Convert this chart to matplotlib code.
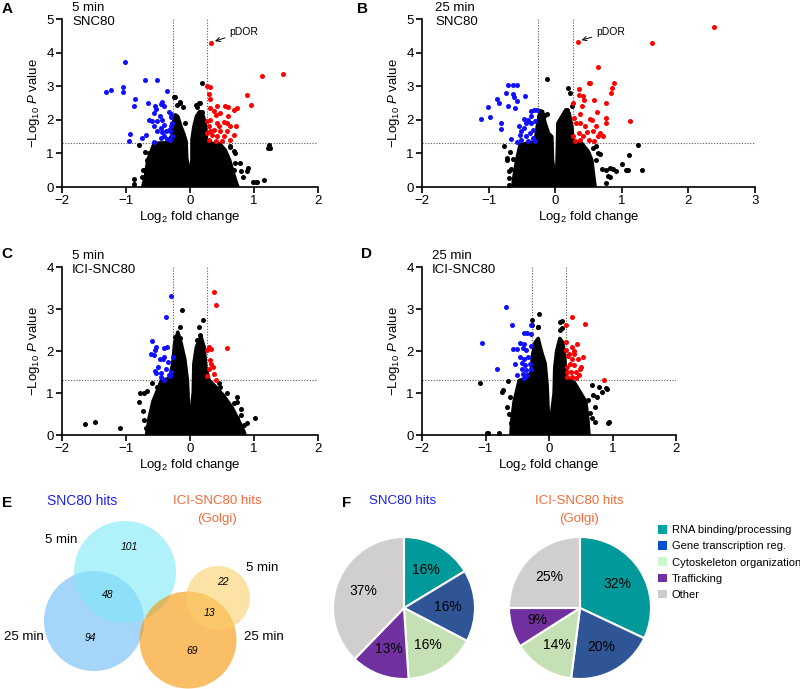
import matplotlib
matplotlib.use('Agg')
import matplotlib.pyplot as plt
from matplotlib.patches import Circle, Patch, Polygon

plt.rcParams['font.family'] = ['Liberation Sans', 'DejaVu Sans']
plt.rcParams['mathtext.fontset'] = 'custom'
plt.rcParams['mathtext.rm'] = 'Liberation Sans'
plt.rcParams['mathtext.it'] = 'Liberation Sans:italic'

W, H = 800, 689

# cut-offs used in the volcano plots
FC_CUT = 0.263   # log2(1.2)
P_CUT = 1.301    # -log10(0.05)

# ---- panel A: 5 min SNC80 ----
a_blue = [(-1.31, 2.84), (-1.23, 2.90), (-1.02, 3.73), (-1.05, 2.98), (-1.05, 2.82), (-0.86, 2.63),
          (-0.875, 2.42), (-0.70, 3.18), (-0.66, 2.50), (-0.52, 3.18), (-0.57, 2.20), (-0.64, 1.98),
          (-0.93, 1.57), (-0.95, 1.37), (-0.755, 1.47), (-0.69, 1.55), (-0.55, 2.42), (-0.53, 2.33),
          (-0.46, 2.48), (-0.44, 2.52), (-0.41, 2.40), (-0.36, 2.87), (-0.33, 2.24), (-0.30, 2.17),
          (-0.29, 2.08), (-0.47, 2.10), (-0.44, 2.00), (-0.41, 1.86), (-0.46, 1.76), (-0.375, 1.66),
          (-0.33, 1.71), (-0.30, 1.81), (-0.28, 1.90), (-0.56, 1.33), (-0.46, 1.46), (-0.40, 1.53),
          (-0.36, 1.43), (-0.31, 1.41), (-0.52, 1.66), (-0.44, 1.63), (-0.59, 1.95), (-0.57, 1.81),
          (-0.52, 1.95), (-0.31, 1.66), (-0.28, 1.51)]
a_red = [(0.33, 4.28), (0.27, 3.02), (0.32, 2.98), (0.29, 2.78), (0.31, 2.62), (1.125, 3.29),
         (1.46, 3.36), (0.89, 2.75), (0.95, 2.45), (0.42, 2.42), (0.55, 2.40), (0.59, 2.38),
         (0.68, 2.30), (0.73, 2.35), (0.32, 2.35), (0.37, 2.25), (0.47, 2.20), (0.32, 2.00),
         (0.41, 2.15), (0.60, 2.10), (0.53, 1.92), (0.45, 1.82), (0.63, 1.81), (0.72, 1.81),
         (0.29, 1.81), (0.37, 1.71), (0.47, 1.66), (0.58, 1.66), (0.68, 1.56), (0.27, 1.61),
         (0.34, 1.56), (0.42, 1.51), (0.53, 1.51), (0.63, 1.41), (0.29, 1.41), (0.40, 1.36),
         (0.50, 1.36), (0.27, 1.95), (0.42, 1.90), (0.58, 1.90), (0.32, 1.66)]
a_black = [(0.19, 3.10), (-0.255, 2.67), (-0.15, 2.52), (0.15, 2.50), (-0.11, 2.38), (0.11, 2.38),
           (1.23, 1.26), (1.245, 1.16), (1.15, 0.22), (1.04, 0.15), (-0.88, 0.25), (-0.88, 0.08),
           (-0.72, 0.50), (-0.75, 0.30), (-0.80, 1.24), (-0.645, 1.01), (-0.67, 0.79), (-0.57, 0.51),
           (0.89, 0.47), (0.91, 0.58), (0.79, 0.47), (0.71, 0.71), (0.68, 1.06), (0.63, 1.21), (0.99, 0.15),
           (-0.23, 2.69), (-0.16, 2.51), (-0.21, 2.44), (0.14, 2.49), (0.09, 2.44), (0.18, 2.24),
           (-0.08, 1.91), (0.15, 2.04), (-0.18, 1.70), (-0.70, 1.05), (-0.625, 0.90), (-0.65, 0.70),
           (-0.73, 0.51), (0.625, 1.20), (0.70, 1.00), (0.78, 0.70), (0.83, 0.31), (1.03, 0.16),
           (0.68, 0.51), (0.55, 0.85), (1.22, 1.15)]
a_cloud_left = [(-0.74, 0.0), (-0.70, 0.30), (-0.66, 0.80), (-0.60, 1.10), (-0.56, 1.30), (-0.35, 1.32),
                (-0.28, 1.55), (-0.26, 1.90), (-0.23, 2.15), (-0.19, 2.10), (-0.14, 1.80), (-0.09, 1.55),
                (-0.06, 1.35), (-0.05, 0.85), (-0.02, 0.55), (0.0, 0.45), (0.0, 0.0)]
a_cloud_right = [(0.0, 0.0), (0.0, 0.45), (0.03, 0.80), (0.03, 1.40), (0.06, 1.80), (0.10, 2.10),
                 (0.15, 2.25), (0.20, 2.15), (0.24, 1.90), (0.26, 1.40), (0.35, 1.30), (0.47, 1.28),
                 (0.55, 1.10), (0.62, 0.80), (0.68, 0.40), (0.73, 0.10), (0.75, 0.0)]

# ---- panel B: 25 min SNC80 ----
b_blue = [(-1.12, 2.01), (-0.98, 2.07), (-1.01, 2.38), (-0.87, 2.62), (-0.84, 2.49), (-0.82, 1.90),
          (-0.82, 1.73), (-0.74, 2.79), (-0.71, 3.05), (-0.63, 3.05), (-0.57, 3.03), (-0.63, 2.78),
          (-0.62, 2.67), (-0.58, 2.57), (-0.60, 2.35), (-0.71, 2.40), (-0.46, 2.72), (-0.66, 1.43),
          (-0.58, 1.33), (-0.54, 1.81), (-0.51, 1.66), (-0.47, 2.01), (-0.44, 1.89), (-0.41, 1.98),
          (-0.36, 2.10), (-0.32, 2.28), (-0.28, 2.30), (-0.37, 2.25), (-0.51, 1.41), (-0.44, 1.51),
          (-0.38, 1.61), (-0.33, 1.71), (-0.41, 1.36), (-0.34, 1.46), (-0.31, 1.36), (-0.53, 1.56),
          (-0.47, 1.76), (-0.36, 1.91), (-0.31, 1.96)]
b_red = [(0.335, 4.31), (2.39, 4.77), (1.45, 4.30), (0.65, 3.58), (0.50, 3.10), (0.52, 3.09),
         (0.36, 2.93), (0.35, 2.74), (0.89, 3.09), (0.86, 2.94), (0.84, 2.80), (0.42, 2.70),
         (0.43, 2.60), (0.58, 2.58), (0.77, 2.50), (0.40, 2.40), (0.27, 2.50), (0.63, 2.24),
         (1.12, 1.95), (0.77, 2.06), (0.77, 1.91), (0.28, 2.06), (0.37, 2.18), (0.52, 2.03),
         (0.55, 2.00), (0.31, 1.91), (0.37, 1.91), (0.45, 1.81), (0.62, 1.81), (0.47, 1.63),
         (0.57, 1.66), (0.67, 1.61), (0.72, 1.51), (0.65, 1.51), (0.35, 1.61), (0.27, 1.51),
         (0.42, 1.51), (0.50, 1.41), (0.37, 1.41), (0.30, 1.36), (0.59, 1.36)]
b_black = [(-0.13, 3.21), (0.195, 2.94), (0.22, 2.79), (1.24, 1.25), (1.11, 0.96), (1.00, 0.67),
           (1.09, 0.50), (1.31, 0.52), (-0.77, 1.22), (-0.72, 0.87), (-0.69, 0.47), (-0.69, 0.26),
           (-0.70, 0.06), (0.91, 0.47), (0.83, 0.57), (0.80, 0.33), (0.77, 0.11), (0.67, 0.97),
           (0.62, 1.22), (-0.23, 2.25), (-0.155, 2.15), (0.17, 2.30), (0.245, 2.42), (-0.13, 2.18),
           (-0.24, 2.08), (0.15, 2.20), (0.20, 1.98), (-0.68, 1.04), (-0.73, 0.80), (-0.63, 0.82),
           (-0.67, 0.55), (-0.55, 0.41), (0.57, 1.15), (0.65, 1.00), (0.62, 0.80), (0.70, 0.55),
           (0.77, 0.50), (0.87, 0.55), (0.82, 0.30), (1.07, 0.50)]
b_cloud_left = [(-0.64, 0.0), (-0.62, 0.30), (-0.58, 0.80), (-0.53, 1.25), (-0.40, 1.32), (-0.30, 1.35),
                (-0.27, 1.80), (-0.24, 2.15), (-0.19, 2.25), (-0.15, 1.90), (-0.10, 1.60), (-0.05, 1.50),
                (-0.04, 0.80), (-0.01, 0.35), (0.0, 0.0)]
b_cloud_right = [(0.0, 0.0), (0.02, 0.35), (0.03, 1.00), (0.04, 1.90), (0.10, 2.10), (0.16, 2.30),
                 (0.21, 2.20), (0.25, 1.80), (0.27, 1.35), (0.40, 1.30), (0.50, 1.05), (0.55, 0.80),
                 (0.58, 0.30), (0.60, 0.0)]

# ---- panel C: 5 min ICI-SNC80 ----
c_blue = [(-0.30, 3.30), (-0.375, 2.80), (-0.59, 2.24), (-0.53, 2.10), (-0.54, 2.02), (-0.41, 2.08),
          (-0.36, 2.10), (-0.27, 1.86), (-0.61, 1.92), (-0.56, 1.90), (-0.47, 1.82), (-0.42, 1.80),
          (-0.40, 1.86), (-0.34, 1.74), (-0.50, 1.62), (-0.37, 1.58), (-0.55, 1.53), (-0.53, 1.47),
          (-0.45, 1.48), (-0.33, 1.44), (-0.29, 1.50), (-0.31, 1.40), (-0.40, 1.32), (-0.46, 1.39)]
c_red = [(0.37, 3.41), (0.41, 3.09), (0.58, 2.07), (0.29, 2.10), (0.33, 2.04), (0.27, 2.02),
         (0.31, 1.78), (0.33, 1.69), (0.36, 1.62), (0.29, 1.58), (0.37, 1.45), (0.27, 1.40), (0.40, 1.32)]
c_black = [(-0.125, 2.97), (0.20, 2.73), (-0.16, 2.56), (0.135, 2.57), (0.16, 2.38), (-1.635, 0.26),
           (-1.49, 0.30), (-1.09, 0.16), (-0.80, 0.79), (-0.72, 0.99), (-0.67, 1.05), (-0.73, 0.58),
           (1.02, 0.41), (0.79, 0.48), (0.46, 1.23), (-0.59, 1.24), (-0.52, 1.15), (0.73, 0.79),
           (0.89, 0.28), (0.84, 0.24), (-0.59, 0.08), (-0.23, 2.34), (-0.78, 0.99), (-0.62, 0.44),
           (-0.54, 0.32), (-0.72, 0.36), (-0.68, 0.16), (0.74, 0.91), (0.68, 0.77), (0.80, 0.63),
           (0.73, 0.40), (0.47, 1.15), (0.58, 0.99), (-0.15, 2.32), (0.11, 2.26)]
c_cloud_left = [(-0.68, 0.0), (-0.64, 0.40), (-0.58, 0.80), (-0.50, 1.10), (-0.45, 1.30), (-0.32, 1.35),
                (-0.27, 1.70), (-0.24, 2.20), (-0.19, 2.45), (-0.14, 2.20), (-0.08, 1.80), (-0.04, 1.30),
                (-0.02, 0.60), (0.0, 0.30), (0.0, 0.0)]
c_cloud_right = [(0.0, 0.0), (0.0, 0.30), (0.02, 0.60), (0.05, 1.00), (0.06, 1.70), (0.10, 2.10),
                 (0.17, 2.35), (0.22, 2.10), (0.25, 1.60), (0.30, 1.30), (0.40, 1.15), (0.52, 0.95),
                 (0.66, 0.65), (0.76, 0.35), (0.84, 0.10), (0.86, 0.0)]

# ---- panel D: 25 min ICI-SNC80 ----
d_blue = [(-1.05, 2.18), (-0.825, 1.58), (-0.68, 3.05), (-0.59, 2.63), (-0.57, 2.04), (-0.50, 2.04),
          (-0.53, 1.69), (-0.51, 1.43), (-0.40, 2.42), (-0.35, 2.43), (-0.29, 2.62), (-0.28, 2.40),
          (-0.46, 2.18), (-0.39, 2.16), (-0.41, 2.06), (-0.37, 2.02), (-0.28, 2.11), (-0.46, 1.86),
          (-0.39, 1.80), (-0.33, 1.85), (-0.42, 1.72), (-0.38, 1.66), (-0.30, 1.70), (-0.43, 1.58),
          (-0.37, 1.54), (-0.29, 1.56), (-0.41, 1.45), (-0.34, 1.42), (-0.40, 1.35)]
d_red = [(0.36, 2.81), (0.27, 2.63), (0.56, 2.64), (0.27, 2.22), (0.44, 2.16), (0.36, 2.10),
         (0.27, 2.02), (0.40, 2.00), (0.54, 1.85), (0.51, 1.62), (0.49, 1.58), (0.87, 1.31),
         (0.30, 1.88), (0.37, 1.82), (0.45, 1.80), (0.33, 1.70), (0.39, 1.66), (0.29, 1.62),
         (0.28, 1.50), (0.34, 1.50), (0.42, 1.50), (0.47, 1.43), (0.29, 1.39), (0.37, 1.37),
         (0.43, 1.35), (0.32, 1.94), (0.39, 1.94)]
d_black = [(-1.09, 1.25), (-0.98, 0.04), (-0.79, 0.04), (-0.63, 0.51), (-0.64, 1.29), (-0.74, 1.03),
           (-0.16, 2.88), (-0.18, 2.57), (-0.26, 2.73), (0.21, 2.72), (0.18, 2.51), (0.76, 0.91),
           (0.84, 1.03), (0.90, 1.11), (0.95, 0.30), (0.68, 0.41), (0.67, 1.20), (-0.17, 2.58),
           (-0.26, 2.62), (0.17, 2.70), (0.20, 2.54), (-0.72, 1.07), (-0.62, 0.91), (-0.66, 0.67),
           (-0.59, 0.48), (-0.60, 0.28), (-0.96, 0.04), (0.62, 0.83), (0.70, 0.95), (0.78, 1.15),
           (0.72, 0.67), (0.65, 0.52), (0.72, 0.32), (0.59, 0.20), (0.92, 1.09), (0.93, 0.28)]
d_cloud_left = [(-0.60, 0.0), (-0.59, 0.30), (-0.55, 0.80), (-0.47, 1.30), (-0.35, 1.35), (-0.28, 1.50),
                (-0.26, 1.90), (-0.22, 2.20), (-0.17, 2.30), (-0.12, 2.00), (-0.06, 1.70), (-0.03, 1.20),
                (-0.01, 0.50), (0.0, 0.0)]
d_cloud_right = [(0.0, 0.0), (0.04, 0.50), (0.08, 1.00), (0.09, 1.60), (0.12, 2.00), (0.17, 2.30),
                 (0.22, 2.20), (0.25, 1.80), (0.27, 1.35), (0.40, 1.25), (0.50, 1.00), (0.58, 0.80),
                 (0.61, 0.40), (0.63, 0.0)]

# ---- panel E: Venn counts (101 5 min only, 48 shared, 94 25 min only / ICI: 69, 22, 13) ----
venn_counts = [101, 48, 94, 69, 22, 13]
venn_set_labels = ['5 min', '25 min', '5 min', '25 min']

# ---- panel F: GO categories ----
categories = ['RNA binding/processing', 'Gene transcription reg.', 'Cytoskeleton organization',
              'Trafficking', 'Other']
snc80_pct = [16, 16, 16, 13, 37]
ici_pct = [32, 20, 14, 9, 25]

pie_colors = ['#009a9a', '#2f5597', '#c5e0b4', '#7030a0', '#d0cece']
legend_colors = ['#00a3a3', '#0a4fcf', '#ccf7cc', '#7030a0', '#cccccc']
BLUE_TXT = '#1e22f0'
ORANGE_TXT = '#f26b3a'


def box(l, t, r, b):
    # pixel box -> figure fraction rect
    return [l / W, 1 - b / H, (r - l) / W, (b - t) / H]


def fpos(x, y):
    return x / W, 1 - y / H


fig = plt.figure(figsize=(W / 100, H / 100), dpi=100)


def volcano(rect, xlim, ymax, title, blue, red, black, cloud_l, cloud_r, pdor=None):
    ax = fig.add_axes(rect)
    for cl in (cloud_l, cloud_r):
        ax.add_patch(Polygon(cl, closed=True, fc='black', ec='black', lw=2.5, joinstyle='round', zorder=2))
    ax.scatter([p[0] for p in black], [p[1] for p in black], s=13, c='black', lw=0, zorder=3)
    ax.scatter([p[0] for p in blue], [p[1] for p in blue], s=13, c='#1010ff', lw=0, zorder=3)
    ax.scatter([p[0] for p in red], [p[1] for p in red], s=13, c='#ff0000', lw=0, zorder=3)
    for xv in (-FC_CUT, FC_CUT):
        ax.axvline(xv, color='0.35', ls=(0, (1, 1.5)), lw=0.8, zorder=1)
    ax.axhline(P_CUT, color='0.35', ls=(0, (1, 1.5)), lw=0.8, zorder=1)
    ax.set_xlim(*xlim)
    ax.set_ylim(0, ymax)
    ax.set_xticks(range(xlim[0], xlim[1] + 1))
    ax.set_yticks(range(0, ymax + 1))
    for s in ('top', 'right'):
        ax.spines[s].set_visible(False)
    for s in ('left', 'bottom'):
        ax.spines[s].set_linewidth(1.2)
    ax.tick_params(direction='out', length=4, width=1.2, labelsize=9.5, pad=2)
    ax.set_xlabel(r'Log$_2$ fold change', fontsize=9.5, labelpad=1)
    ax.set_ylabel(r'$-$Log$_{10}$ $\it{P}$ value', fontsize=9.5, labelpad=3)
    ax.text(0.04, 1.1, title, transform=ax.transAxes, ha='left', va='top', fontsize=9.5,
            linespacing=1.25)
    if pdor is not None:
        ax.annotate('pDOR', xy=(pdor[0] + 0.06, pdor[1] + 0.06), xytext=(0.61, 4.62),
                    fontsize=7.5, va='center', ha='left',
                    arrowprops=dict(arrowstyle='->', lw=0.7, color='black', shrinkA=1, shrinkB=0))
    return ax


volcano(box(62, 19, 318, 187), (-2, 2), 5, '5 min\nSNC80', a_blue, a_red, a_black,
        a_cloud_left, a_cloud_right, pdor=a_red[0])
volcano(box(422, 19, 755, 187), (-2, 3), 5, '25 min\nSNC80', b_blue, b_red, b_black,
        b_cloud_left, b_cloud_right, pdor=b_red[0])
volcano(box(62, 267, 318, 435), (-2, 2), 4, '5 min\nICI-SNC80', c_blue, c_red, c_black,
        c_cloud_left, c_cloud_right)
volcano(box(422, 267, 676, 435), (-2, 2), 4, '25 min\nICI-SNC80', d_blue, d_red, d_black,
        d_cloud_left, d_cloud_right)

# panel letters
for letter, (x, y) in zip('ABCDEF', [(7, 9), (363, 9), (7, 254), (367, 254), (7, 503), (347, 503)]):
    fig.text(*fpos(x, y), letter, fontsize=11, fontweight='bold', ha='center', va='center')

# ---- Venn (panel E), drawn in a pixel-space overlay ----
ov = fig.add_axes([0, 0, 1, 1])
ov.set_xlim(0, W)
ov.set_ylim(H, 0)
ov.axis('off')
venn_circles = [(94, 621, 50, '#6bb9f7'), (125, 572, 51, '#7ee8f8'),
                (188, 640, 48.5, '#f89300'), (218, 598, 32, '#fbd06a')]
for cx, cy, r, col in venn_circles:
    ov.add_patch(Circle((cx, cy), r, fc=col, ec='none', alpha=0.6))
venn_num_pos = [(129, 547), (108, 595), (90, 638), (192, 651), (223, 582), (209, 613)]
for n, (x, y) in zip(venn_counts, venn_num_pos):
    ov.text(x, y, str(n), fontsize=7.5, style='italic', ha='center', va='center')
venn_lab_pos = [(61, 540), (24, 637), (262, 568), (264, 637)]
for lab, (x, y) in zip(venn_set_labels, venn_lab_pos):
    ov.text(x, y, lab, fontsize=9.5, ha='center', va='center')
ov.text(82, 501, 'SNC80 hits', color=BLUE_TXT, fontsize=10, ha='center', va='center')
ov.text(217, 501, 'ICI-SNC80 hits', color=ORANGE_TXT, fontsize=9.5, ha='center', va='center')
ov.text(217, 519, '(Golgi)', color=ORANGE_TXT, fontsize=9.5, ha='center', va='center')

# ---- pies (panel F) ----
R_PX = 71
for cx, vals in [(404, snc80_pct), (580, ici_pct)]:
    side = 2 * R_PX * 1.25
    axp = fig.add_axes(box(cx - side / 2, 608 - side / 2, cx + side / 2, 608 + side / 2))
    it = iter(vals)
    axp.pie(vals, colors=pie_colors, startangle=90, counterclock=False,
            autopct=lambda p: '%d%%' % next(it), pctdistance=0.62,
            wedgeprops=dict(edgecolor='white', linewidth=1.5),
            textprops=dict(fontsize=10))
ov.text(403, 501, 'SNC80 hits', color=BLUE_TXT, fontsize=9.5, ha='center', va='center')
ov.text(579, 501, 'ICI-SNC80 hits', color=ORANGE_TXT, fontsize=9.5, ha='center', va='center')
ov.text(579, 519, '(Golgi)', color=ORANGE_TXT, fontsize=9.5, ha='center', va='center')

handles = [Patch(fc=c, ec='none', label=l) for c, l in zip(legend_colors, categories)]
fig.legend(handles=handles, loc='upper left', bbox_to_anchor=fpos(658, 525), frameon=False,
           fontsize=8, handlelength=0.8, handleheight=0.8, handletextpad=0.45,
           labelspacing=0.55, borderaxespad=0, borderpad=0)

fig.savefig('out.png', dpi=100)
